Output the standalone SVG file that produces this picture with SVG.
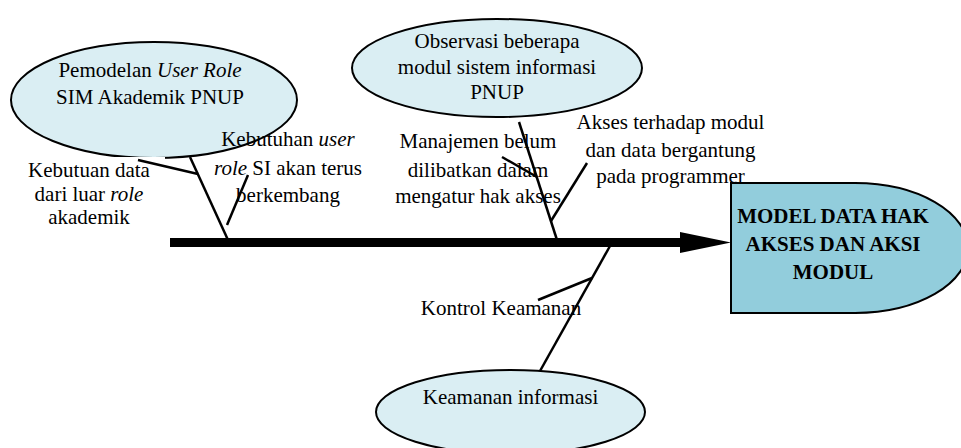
<svg xmlns="http://www.w3.org/2000/svg" width="961" height="448" viewBox="0 0 961 448">
<style>
.ell{fill:#DAEEF3;stroke:#000;stroke-width:2}
.t{font-family:'Liberation Serif','Times New Roman',serif;font-size:21px;fill:#000;text-anchor:middle}
.b{font-weight:bold}
.bone{stroke:#000;stroke-width:2.5;fill:none}
</style>
<rect width="961" height="448" fill="#fff"/>
<g id="node-pemodelan">
<ellipse class="ell" cx="154" cy="100" rx="143" ry="58"/>
<text class="t" x="150" y="77">Pemodelan <tspan font-style="italic">User Role</tspan></text>
<text class="t" x="150" y="104">SIM Akademik PNUP</text>
</g>
<g id="node-observasi">
<ellipse class="ell" cx="497" cy="68" rx="145" ry="49"/>
<text class="t" x="497" y="48">Observasi beberapa</text>
<text class="t" x="497" y="73.5">modul sistem informasi</text>
<text class="t" x="497" y="99">PNUP</text>
</g>
<g id="node-keamanan">
<ellipse class="ell" cx="510.5" cy="412" rx="134.5" ry="42"/>
<text class="t" x="510.5" y="404">Keamanan informasi</text>
</g>
<g id="node-model">
<path d="M731,183 H855 A113,65 0 0 1 855,313 H731 Z" fill="#92CDDC" stroke="#000" stroke-width="2"/>
<text class="t b" x="833" y="223" font-size="21.5">MODEL DATA HAK</text>
<text class="t b" x="833" y="251">AKSES DAN AKSI</text>
<text class="t b" x="833" y="279">MODUL</text>
</g>
<g id="label-kebutuan-data">
<rect x="18" y="157" width="147" height="75" fill="#fff"/>
<text class="t" x="89" y="177">Kebutuan data</text>
<text class="t" x="89" y="201">dari luar <tspan font-style="italic">role</tspan></text>
<text class="t" x="89" y="224">akademik</text>
</g>
<g id="label-kebutuhan-user">
<text class="t" x="288" y="146">Kebutuhan <tspan font-style="italic">user</tspan></text>
<text class="t" x="288" y="175"><tspan font-style="italic">role</tspan> SI akan terus</text>
<text class="t" x="288" y="202">berkembang</text>
</g>
<g id="label-manajemen">
<text class="t" x="478" y="148">Manajemen belum</text>
<text class="t" x="478" y="177">dilibatkan dalam</text>
<text class="t" x="478" y="203">mengatur hak akses</text>
</g>
<g id="label-akses">
<text class="t" x="670.5" y="129">Akses terhadap modul</text>
<text class="t" x="670.5" y="157">dan data bergantung</text>
<text class="t" x="670.5" y="183">pada programmer</text>
</g>
<g id="label-kontrol">
<text class="t" x="501" y="315">Kontrol Keamanan</text>
</g>
<g id="connectors">
<line x1="170" y1="242.5" x2="684" y2="242.5" stroke="#000" stroke-width="9"/>
<polygon points="680,232 731,242.5 680,253" fill="#000"/>
<line class="bone" x1="190" y1="157" x2="228" y2="240"/>
<line class="bone" x1="138" y1="160" x2="198" y2="174"/>
<line class="bone" x1="248" y1="175" x2="227" y2="225"/>
<line class="bone" x1="519" y1="122" x2="557" y2="240"/>
<line class="bone" x1="502" y1="157" x2="537" y2="177"/>
<line class="bone" x1="587" y1="163" x2="551" y2="221"/>
<line class="bone" x1="610" y1="246" x2="540" y2="371"/>
<line class="bone" x1="538" y1="300" x2="592" y2="278"/>
</g>
</svg>
